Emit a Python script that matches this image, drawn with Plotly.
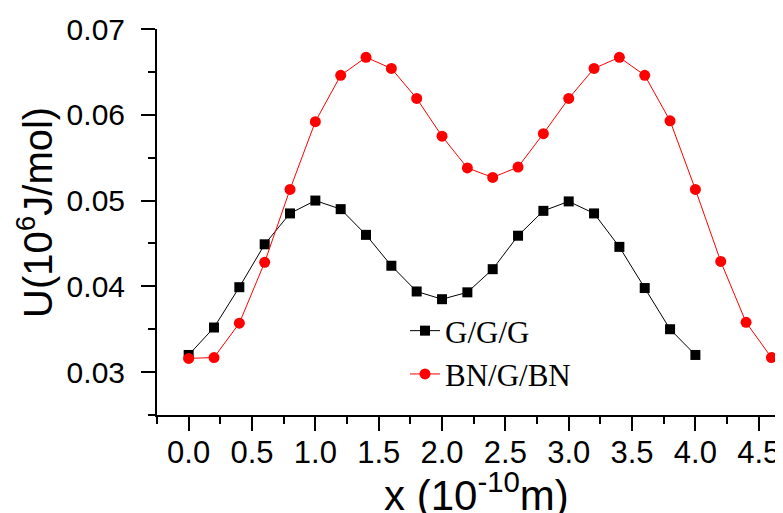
import plotly.graph_objects as go

# ---- data ----
x_ggg = [0.0, 0.2, 0.4, 0.6, 0.8, 1.0, 1.2, 1.4, 1.6, 1.8, 2.0,
         2.2, 2.4, 2.6, 2.8, 3.0, 3.2, 3.4, 3.6, 3.8, 4.0]
u_ggg = [0.0320, 0.0352, 0.0399, 0.0449, 0.0485, 0.0500, 0.0490, 0.0460, 0.0424, 0.0394, 0.0385,
         0.0393, 0.0420, 0.0459, 0.0488, 0.0499, 0.0485, 0.0446, 0.0398, 0.0350, 0.0320]

x_bn = [0.0, 0.2, 0.4, 0.6, 0.8, 1.0, 1.2, 1.4, 1.6, 1.8, 2.0, 2.2,
        2.4, 2.6, 2.8, 3.0, 3.2, 3.4, 3.6, 3.8, 4.0, 4.2, 4.4, 4.6]
u_bn = [0.0316, 0.0317, 0.0357, 0.0428, 0.0513, 0.0592, 0.0646, 0.0667, 0.0654, 0.0619, 0.0575, 0.0538,
        0.0527, 0.0539, 0.0578, 0.0619, 0.0654, 0.0667, 0.0646, 0.0593, 0.0513, 0.0429, 0.0358, 0.0317]

x_ticks = [0.0, 0.5, 1.0, 1.5, 2.0, 2.5, 3.0, 3.5, 4.0, 4.5]
x_ticklabels = ["0.0", "0.5", "1.0", "1.5", "2.0", "2.5", "3.0", "3.5", "4.0", "4.5"]
y_ticks = [0.03, 0.04, 0.05, 0.06, 0.07]
y_ticklabels = ["0.03", "0.04", "0.05", "0.06", "0.07"]

x_title = "x (10<sup>-10</sup>m)"
y_title = "U(10<sup>6</sup>J/mol)"

sans = "Liberation Sans, Arial, sans-serif"
serif = "Liberation Serif, Times New Roman, serif"

# page has an 8px default body margin; figure is sized so the plot lands where the reference has it
PW, PH = 622, 386          # plot area size in px
PL, PB = 157, 415          # plot-area left / bottom in page px

def px_x(v):
    return (v - PL) / PW

def px_y(v):
    return (PB - v) / PH

fig = go.Figure()
fig.add_trace(go.Scatter(
    x=x_ggg, y=u_ggg, mode="lines+markers", name="G/G/G",
    line=dict(color="black", width=1),
    marker=dict(symbol="square", size=10, color="black"),
    cliponaxis=False,
))
fig.add_trace(go.Scatter(
    x=x_bn, y=u_bn, mode="lines+markers", name="BN/G/BN",
    line=dict(color="#ff0000", width=1),
    marker=dict(symbol="circle", size=11, color="#ff0000"),
    cliponaxis=False,
))

fig.update_layout(
    width=775, height=505,
    margin=dict(l=149, r=4, t=21, b=98),
    paper_bgcolor="white", plot_bgcolor="white",
    showlegend=True,
    legend=dict(
        x=px_x(405), y=px_y(304), xanchor="left", yanchor="top",
        font=dict(family=serif, size=31, color="black"),
        bgcolor="rgba(0,0,0,0)", tracegroupgap=0,
    ),
    annotations=[
        dict(text=x_title, xref="paper", yref="paper", x=px_x(476), y=px_y(492),
             xanchor="center", yanchor="middle", showarrow=False,
             font=dict(family=sans, size=42, color="black")),
        dict(text=y_title, xref="paper", yref="paper", x=px_x(35), y=px_y(213),
             xanchor="center", yanchor="middle", showarrow=False, textangle=-90,
             font=dict(family=sans, size=40, color="black")),
    ],
)

fig.update_xaxes(
    range=[-0.25, 4.66], automargin=False,
    tickmode="array", tickvals=x_ticks, ticktext=x_ticklabels,
    showgrid=False, zeroline=False,
    showline=True, linecolor="black", linewidth=2,
    ticks="outside", ticklen=14, tickwidth=2, tickcolor="black",
    minor=dict(dtick=0.25, tick0=0, ticks="outside", ticklen=7, tickwidth=2, tickcolor="black", showgrid=False),
    tickfont=dict(family=sans, size=31, color="black"),
    ticklabelstandoff=-5,
)
fig.update_yaxes(
    range=[0.025, 0.07], automargin=False,
    tickmode="array", tickvals=y_ticks, ticktext=y_ticklabels,
    showgrid=False, zeroline=False,
    showline=True, linecolor="black", linewidth=2,
    ticks="outside", ticklen=14, tickwidth=2, tickcolor="black",
    minor=dict(dtick=0.005, tick0=0.025, ticks="outside", ticklen=7, tickwidth=2, tickcolor="black", showgrid=False),
    tickfont=dict(family=sans, size=30, color="black"),
    ticklabelstandoff=10,
)

fig.write_html("out.html")
